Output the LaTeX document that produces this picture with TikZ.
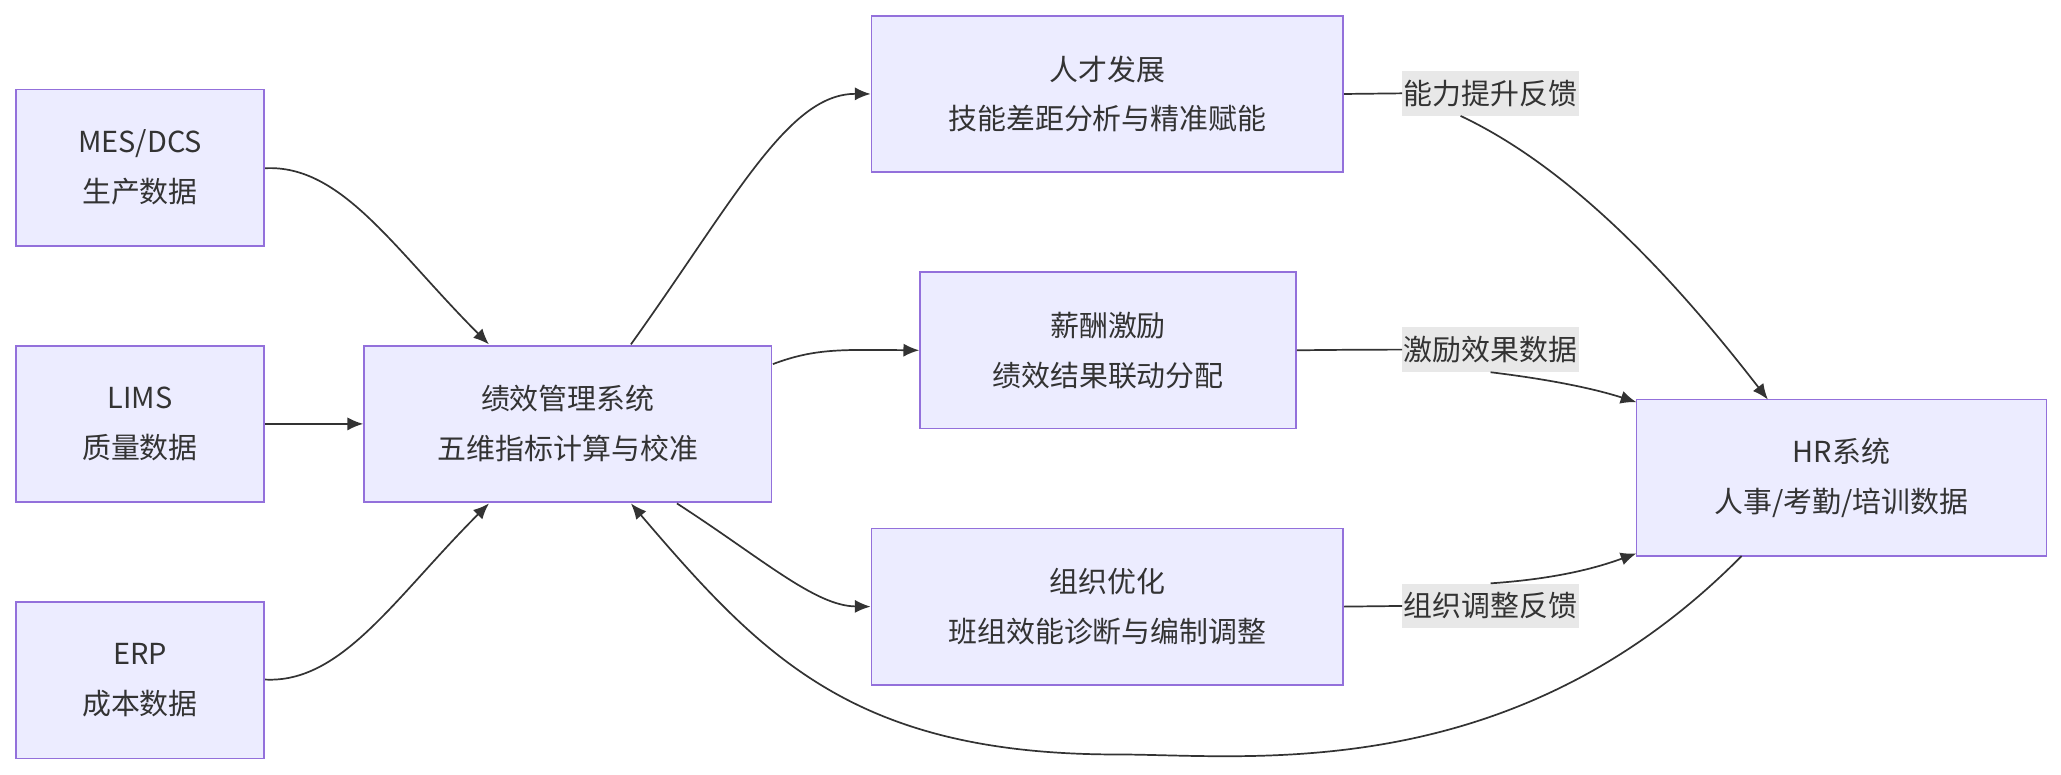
\documentclass[tikz,border=0pt]{standalone}
\usepackage{fontspec}
\setmainfont{Noto Sans CJK SC}
\usetikzlibrary{arrows.meta}
\definecolor{bx}{HTML}{ECECFF}
\definecolor{bd}{HTML}{9370DB}
\definecolor{ln}{HTML}{333333}
\definecolor{lb}{HTML}{E8E8E8}
\begin{document}
\begin{tikzpicture}[x=1pt,y=-1pt,
  box/.style={draw=bd,fill=bx,line width=1.3pt,minimum height=119pt,align=center,inner sep=0pt,
    font=\fontsize{22}{38}\selectfont,text=ln},
  lab/.style={fill=lb,inner sep=1pt,font=\fontsize{22}{26}\selectfont,text=ln,minimum height=34pt},
  e/.style={draw=ln,line width=1.3pt,-{Latex[length=12pt,width=10pt]}},
  l/.style={draw=ln,line width=1.3pt}]
\useasboundingbox (0,0) rectangle (1568,589);
\node[box,minimum width=189pt] (mes) at (106.5,127.5) {MES/DCS\\生产数据};
\node[box,minimum width=189pt] (lims) at (106.5,322.5) {LIMS\\质量数据};
\node[box,minimum width=189pt] (erp) at (106.5,517.5) {ERP\\成本数据};
\node[box,minimum width=310pt] (pm) at (432,322.5) {绩效管理系统\\五维指标计算与校准};
\node[box,minimum width=359pt] (rc) at (842.5,71.5) {人才发展\\技能差距分析与精准赋能};
\node[box,minimum width=286pt] (xc) at (843,266.5) {薪酬激励\\绩效结果联动分配};
\node[box,minimum width=359pt] (zz) at (842.5,461.5) {组织优化\\班组效能诊断与编制调整};
\node[box,minimum width=312pt] (hr) at (1401,363.5) {HR系统\\人事/考勤/培训数据};
\node[lab] (l1) at (1134,71) {能力提升反馈};
\node[lab] (l2) at (1134,266) {激励效果数据};
\node[lab] (l3) at (1134,461) {组织调整反馈};
\coordinate (pmt) at (372,262);
\coordinate (pmb) at (372,383);
\draw[e] (mes.east |- 0,128) .. controls (260,125) and (300,190) .. (pmt);
\draw[e] (lims) -- (pm);
\draw[e] (erp.east |- 0,517) .. controls (260,520) and (300,455) .. (pmb);
\draw[e] (480,262) .. controls (560,150) and (600,71) .. (rc.west);
\draw[e] (588,277) .. controls (620,265) and (640,266) .. (xc.west);
\draw[e] (515,383) .. controls (580,425) and (620,461) .. (zz.west);
\draw[l] (rc.east) -- (l1.west);
\draw[e] (l1.south east) ++(-90,0) .. controls (1200,130) and (1280,220) .. (1345,304);
\draw[l] (xc.east) .. controls (1030,266) and (1050,266) .. (l2.west);
\draw[e] (l2.south) .. controls (1190,290) and (1220,298) .. (1245,306);
\draw[l] (zz.east) -- (l3.west);
\draw[e] (l3.north) .. controls (1190,440) and (1220,430) .. (1245,421);
\draw[e] (1325,423) .. controls (1150,600) and (950,574) .. (850,574) .. controls (650,574) and (580,500) .. (480,383);
\end{tikzpicture}
\end{document}
